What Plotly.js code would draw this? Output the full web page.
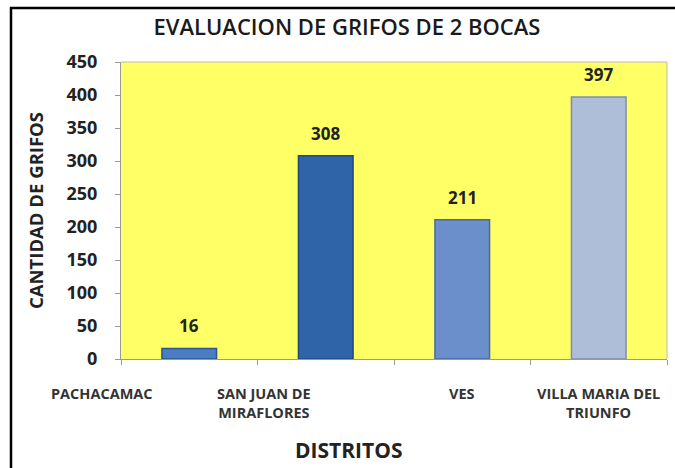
<!DOCTYPE html>
<html>
<head>
<meta charset="utf-8">
<script src="https://cdn.plot.ly/plotly-3.0.1.min.js"></script>
<style>html,body{margin:0;padding:0;background:#fff;}#chart{width:675px;height:468px;}</style>
</head>
<body>
<div id="chart"></div>
<script>
const distritos = ["PACHACAMAC", "SAN JUAN DE MIRAFLORES", "VES", "VILLA MARIA DEL TRIUNFO"];
const tickLabels = ["PACHACAMAC", "SAN JUAN DE<br>MIRAFLORES", "VES", "VILLA MARIA DEL<br>TRIUNFO"];
const grifos = [16, 308, 211, 397];
const yTicks = [0, 50, 100, 150, 200, 250, 300, 350, 400, 450];

const barColors = ["#4a7dc2", "#2f64a9", "#6a8fca", "#aebdd8"];
const barLines = ["#2c558f", "#1f4a80", "#4a6aa0", "#7f8ea8"];
// horizontal placement of category labels (as in the original, in category units)
const labelOffset = [-0.64, -0.45, 0.0, 0.0];

const font = "'Open Sans', 'Noto Sans', sans-serif";

const annotations = [];
distritos.forEach((d, i) => {
  annotations.push({
    x: d, y: grifos[i], xref: 'x', yref: 'y',
    text: '<b>' + grifos[i] + '</b>', showarrow: false,
    yanchor: 'bottom', yshift: 9,
    font: {family: font, size: 17, color: '#222'}
  });
  annotations.push({
    x: (i + 0.5 + labelOffset[i]) / distritos.length, y: -0.077,
    xref: 'paper', yref: 'paper', yanchor: 'top', xanchor: 'center',
    text: '<b>' + tickLabels[i] + '</b>', showarrow: false, align: 'center',
    font: {family: font, size: 14.5, color: '#333'}
  });
});
annotations.push({
  x: 0.416, y: -0.306, xref: 'paper', yref: 'paper', xanchor: 'center', yanchor: 'middle',
  text: '<b>DISTRITOS</b>', showarrow: false,
  font: {family: font, size: 21, color: '#222'}
});

const data = [{
  type: 'bar',
  x: distritos,
  y: grifos,
  width: 0.4,
  marker: {color: barColors, line: {color: barLines, width: 1.5}},
  hoverinfo: 'x+y'
}];

const layout = {
  width: 675, height: 468,
  margin: {l: 121, r: 8, t: 62, b: 109},
  paper_bgcolor: '#ffffff',
  plot_bgcolor: '#ffff66',
  showlegend: false,
  title: {
    text: 'EVALUACION DE GRIFOS DE 2 BOCAS',
    x: 0.514, xanchor: 'center', y: 0.942, yanchor: 'middle',
    font: {family: font, size: 22, color: '#1a1a1a', weight: 600}
  },
  xaxis: {
    type: 'category',
    showticklabels: false,
    tickson: 'boundaries',
    ticks: 'outside', ticklen: 5, tickcolor: '#999',
    showline: true, linecolor: '#999', linewidth: 1,
    showgrid: false, zeroline: false,
    range: [-0.5, 3.5]
  },
  yaxis: {
    range: [0, 450],
    tickvals: yTicks,
    ticks: 'outside', ticklen: 5, tickcolor: '#999',
    ticklabelstandoff: 14,
    showline: true, linecolor: '#999', linewidth: 1,
    showgrid: false, zeroline: false,
    tickfont: {family: font, size: 18, color: '#222', weight: 'bold'},
    title: {text: '<b>CANTIDAD DE GRIFOS</b>', font: {family: font, size: 18.5, color: '#222'}, standoff: 18}
  },
  annotations: annotations,
  shapes: [
    {type: 'line', xref: 'paper', yref: 'paper', x0: 1, x1: 1, y0: 0, y1: 1,
     line: {color: '#bbb', width: 1}},
    {type: 'line', xref: 'paper', yref: 'paper', x0: 0, x1: 1, y0: 1, y1: 1,
     line: {color: '#bbb', width: 1}}
  ]
};

Plotly.newPlot('chart', data, layout, {displayModeBar: false, staticPlot: true}).then(() => {
  // outer frame around the whole figure (right and bottom edges lie beyond the picture)
  const svg = document.querySelector('#chart .main-svg');
  const ns = 'http://www.w3.org/2000/svg';
  const r = document.createElementNS(ns, 'rect');
  r.setAttribute('x', 11); r.setAttribute('y', 8);
  r.setAttribute('width', 700); r.setAttribute('height', 500);
  r.setAttribute('fill', 'none'); r.setAttribute('stroke', '#000'); r.setAttribute('stroke-width', 2.5);
  svg.appendChild(r);
});
</script>
</body>
</html>
